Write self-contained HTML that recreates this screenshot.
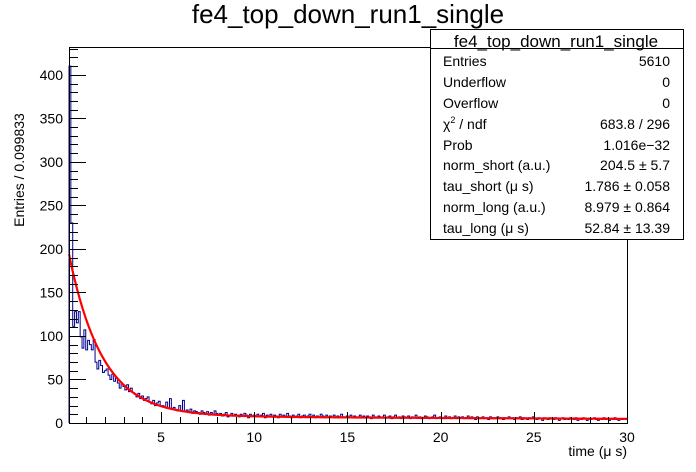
<!DOCTYPE html>
<html><head><meta charset="utf-8"><style>
body{margin:0;background:#fff;}
svg{display:block;font-family:"Liberation Sans",sans-serif;}
</style></head><body>
<svg id="c" width="696" height="472" viewBox="0 0 696 472">
<rect x="0" y="0" width="696" height="472" fill="#fff"/>
<text x="348" y="23" font-size="26" text-anchor="middle">fe4_top_down_run1_single</text>
<g id="plot"></g>
<text x="627" y="456" font-size="14" text-anchor="end">time (μ s)</text>
<text transform="translate(24,170) rotate(-90)" font-size="14" text-anchor="middle">Entries / 0.099833</text>
<g>
<rect x="430.5" y="29.5" width="253" height="210" fill="#fff" stroke="#000" stroke-width="1"/>
<line x1="430" y1="48.5" x2="683" y2="48.5" stroke="#000"/>
<text x="556" y="47" font-size="17" text-anchor="middle">fe4_top_down_run1_single</text>
<g font-size="14">
<text x="443" y="66">Entries</text><text x="670" y="66" text-anchor="end">5610</text>
<text x="443" y="87">Underflow</text><text x="670" y="87" text-anchor="end">0</text>
<text x="443" y="108">Overflow</text><text x="670" y="108" text-anchor="end">0</text>
<text x="443" y="129">χ<tspan font-size="9" dy="-6">2</tspan><tspan dy="6"> / ndf</tspan></text><text x="670" y="129" text-anchor="end">683.8 / 296</text>
<text x="443" y="150">Prob</text><text x="670" y="150" text-anchor="end">1.016e−32</text>
<text x="443" y="170">norm_short (a.u.)</text><text x="670" y="170" text-anchor="end">204.5 ± 5.7</text>
<text x="443" y="191">tau_short (μ s)</text><text x="670" y="191" text-anchor="end">1.786 ± 0.058</text>
<text x="443" y="212">norm_long (a.u.)</text><text x="670" y="212" text-anchor="end">8.979 ± 0.864</text>
<text x="443" y="233">tau_long (μ s)</text><text x="670" y="233" text-anchor="end">52.84 ± 13.39</text>
</g></g>
</svg>
<script>
const counts=[410,230,111,128,115,128,99,86,107,84,
95,90,84,96,70,62,72,66,58,60,
62,55,50,56,48,52,46,40,45,42,
38,44,36,40,35,33,30,34,28,31,
26,28,30,24,22,26,20,23,25,19,
20,18,24,17,28,16,18,15,14,20,
14,26,13,15,12,16,11,14,13,12,
10,14,12,11,13,9,12,10,14,11,
9,11,8,10,12,7,9,11,8,10,
9,7,10,8,11,9,6,10,8,9,
8,10,7,9,11,6,9,8,10,7,
9,8,6,10,8,9,7,11,8,6,
9,7,8,10,6,8,9,7,8,10,
7,9,6,8,7,10,8,6,9,7,
8,7,9,6,8,7,10,7,6,8,
7,9,6,8,7,6,9,7,8,6,
8,7,5,9,7,6,8,7,6,9,
6,7,8,5,7,9,6,7,5,8,
7,6,8,5,7,6,9,6,7,5,
6,8,7,5,6,7,9,5,6,7,
6,5,8,6,7,5,6,8,5,7,
6,7,5,6,8,5,7,6,4,7,
5,6,7,5,6,4,7,6,5,6,
7,5,6,4,6,5,7,5,6,4,
6,5,7,4,6,5,4,6,5,7,
5,4,6,5,3,6,5,4,6,5,
4,6,5,3,5,6,4,5,4,6,
5,4,6,3,5,4,6,5,3,5,
4,5,6,4,3,5,4,6,4,5,
3,5,4,6,4,3,5,4,5,4];
const xTicks=[5,10,15,20,25,30];
const yTicks=[0,50,100,150,200,250,300,350,400];
const fitNorm=[204.5,8.979];
const fitTau=[1.786,52.84];
const binWidth=0.099833, xMin=0.064, xMax=30, yMax=432;
const L=69,R=627,T=47,B=423;
const X=v=>L+(v-xMin)*(R-L)/(xMax-xMin);
const Y=v=>B-v*(B-T)/yMax;
const NS='http://www.w3.org/2000/svg';
const g=document.getElementById('plot');
function mk(t,a){const e=document.createElementNS(NS,t);for(const k in a)e.setAttribute(k,a[k]);g.appendChild(e);return e;}
let d='M'+X(xMin)+','+B;
counts.forEach((c,i)=>{const x0=X(xMin+i*binWidth),x1=X(xMin+(i+1)*binWidth);d+=' L'+x0+','+Y(Math.min(c,yMax))+' L'+x1+','+Y(Math.min(c,yMax));});
const h=mk('path',{d:d,fill:'none',stroke:'#00008b','stroke-width':1});


const sc=0.94;let fd='';
for(let i=0;i<=300;i++){const t=xMin+i*(xMax-xMin)/300;const v=sc*(fitNorm[0]*Math.exp(-t/fitTau[0])+fitNorm[1]*Math.exp(-t/fitTau[1]));fd+=(i?' L':'M')+X(t).toFixed(2)+','+Y(v).toFixed(2);}
const f=mk('path',{d:fd,fill:'none',stroke:'#ff0000','stroke-width':2.2});


const fr=mk('rect',{x:L+0.5,y:T+0.5,width:R-L,height:B-T,fill:'none',stroke:'#000'});


for(let v=1;v<=30;v++){const x=Math.round(X(v))+0.5;const maj=v%5===0;mk('line',{x1:x,y1:B,x2:x,y2:B-(maj?11:6),stroke:'#000'});}
xTicks.forEach(v=>{const t=mk('text',{x:X(v),y:442,'font-size':14,'text-anchor':'middle'});t.textContent=v;

});
for(let v=0;v<=430;v+=10){const y=Math.round(Y(v))+0.5;const maj=v%50===0;mk('line',{x1:L,y1:y,x2:L+(maj?17:9),y2:y,stroke:'#000'});}
yTicks.forEach(v=>{const t=mk('text',{x:63,y:Y(v)+5,'font-size':14,'text-anchor':'end'});t.textContent=v;

});
</script>
</body></html>
